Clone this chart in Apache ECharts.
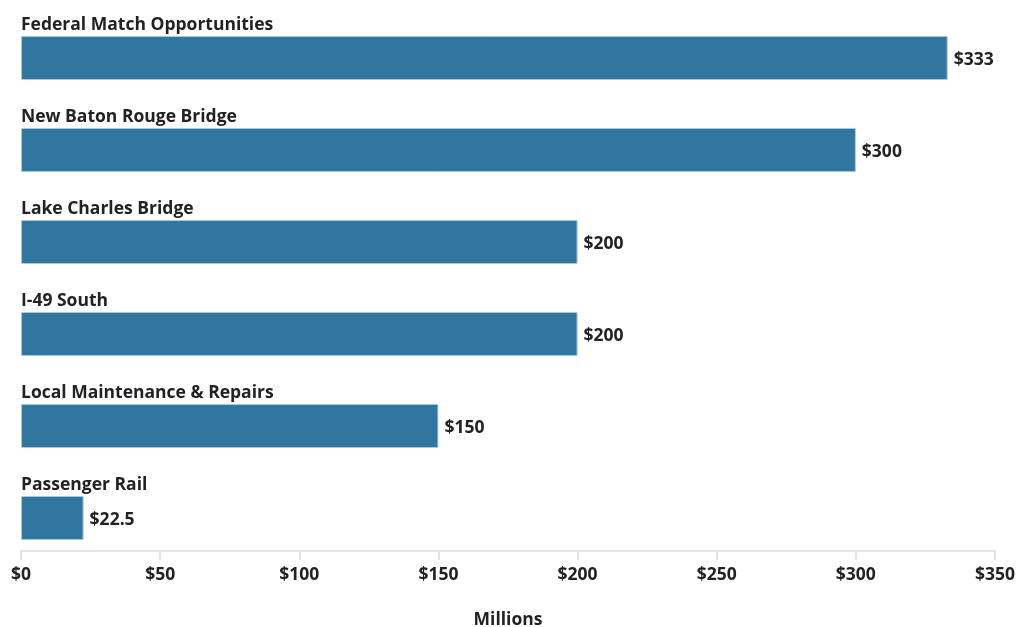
<!DOCTYPE html>
<html><head><meta charset="utf-8">
<script src="https://cdn.jsdelivr.net/npm/echarts@6/dist/echarts.min.js"></script>
<style>html,body{margin:0;padding:0;background:#fff}#c{width:1032px;height:627px}</style>
</head><body><div id="c"></div>
<script>
const categories = ["Federal Match Opportunities","New Baton Rouge Bridge","Lake Charles Bridge","I-49 South","Local Maintenance & Repairs","Passenger Rail"];
const values = [333, 300, 200, 200, 150, 22.5];
const valueLabels = ["$333","$300","$200","$200","$150","$22.5"];
const tickLabels = ["$0","$50","$100","$150","$200","$250","$300","$350"];
const axisTitle = "Millions";

const FONT = "Open Sans";
const FS = 17.5;
const chart = echarts.init(document.getElementById('c'));
chart.setOption({
  animation: false,
  grid: {left: 21, right: 37, top: 12, bottom: 63, outerBoundsMode: 'none', containLabel: false},
  xAxis: {
    type: 'value', min: 0, max: 350, interval: 50, offset: -13,
    axisLine: {show: true, lineStyle: {color: '#e3e3e3', width: 2}},
    axisTick: {show: true, length: 9, lineStyle: {color: '#e3e3e3', width: 2}},
    splitLine: {show: false},
    axisLabel: {margin: 15, color: '#222', fontFamily: FONT, fontWeight: 'bold', fontSize: FS,
      formatter: (v) => tickLabels[Math.round(v / 50)]},
    name: axisTitle, nameLocation: 'middle', nameGap: 60,
    nameTextStyle: {color: '#222', fontFamily: FONT, fontWeight: 'bold', fontSize: FS}
  },
  yAxis: {
    type: 'category', data: categories, inverse: true,
    axisLine: {show: false}, axisTick: {show: false}, axisLabel: {show: false}
  },
  series: [{
    type: 'bar', data: values, barWidth: 44,
    itemStyle: {color: '#31769f', borderColor: '#a9cbe0', borderWidth: 1},
    label: {show: true, position: 'right', distance: 6, offset: [0, 2], color: '#222', fontFamily: FONT, fontWeight: 'bold', fontSize: FS,
      formatter: (p) => valueLabels[p.dataIndex]}
  }, {
    type: 'bar', data: values, barWidth: 44, barGap: '-100%',
    itemStyle: {color: 'rgba(0,0,0,0)'}, silent: true,
    label: {show: true, position: [0, -20], color: '#222', fontFamily: FONT, fontWeight: 'bold', fontSize: FS,
      formatter: (p) => categories[p.dataIndex]}
  }]
});
</script></body></html>
